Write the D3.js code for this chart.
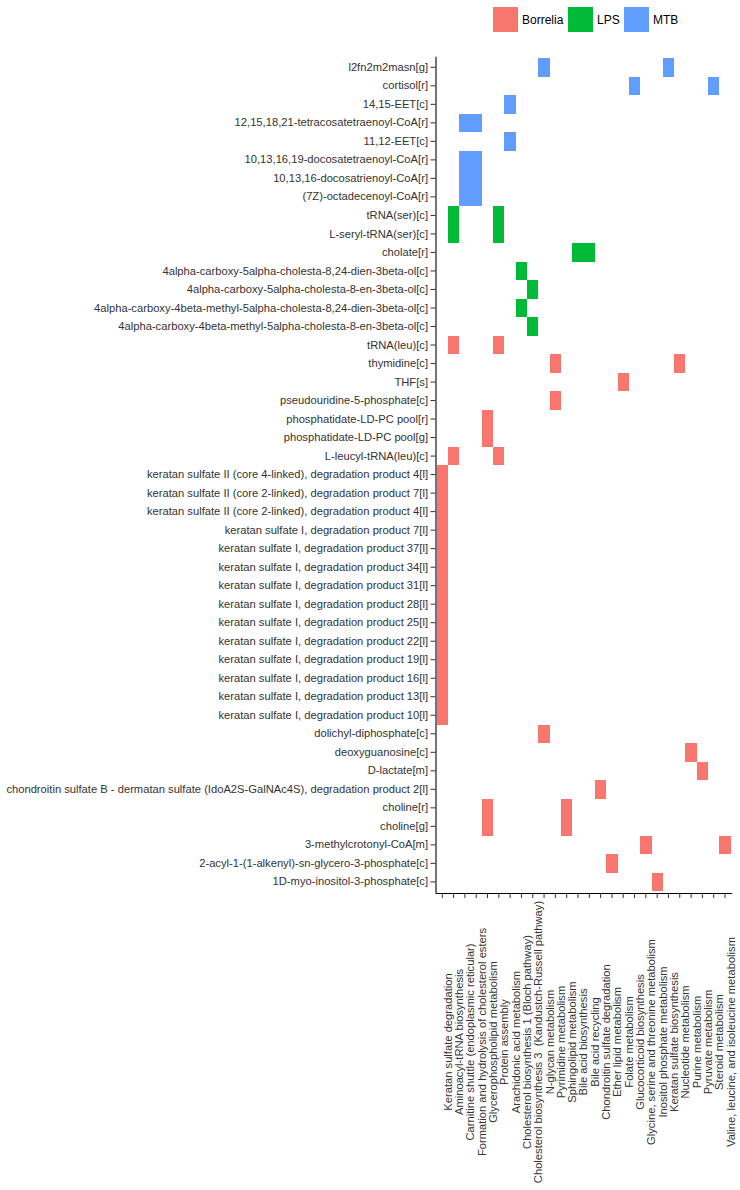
<!DOCTYPE html>
<html>
<head>
<meta charset="utf-8">
<script src="https://cdn.jsdelivr.net/npm/d3@7"></script>
<style>
  body { margin: 0; background: #fff; }
  text { font-family: "Liberation Sans", Arial, sans-serif; white-space: pre; }
</style>
</head>
<body>
<svg id="chart" width="740" height="1190"></svg>
<script>
// y categories, top to bottom
const metabolites = [
  "l2fn2m2masn[g]",
  "cortisol[r]",
  "14,15-EET[c]",
  "12,15,18,21-tetracosatetraenoyl-CoA[r]",
  "11,12-EET[c]",
  "10,13,16,19-docosatetraenoyl-CoA[r]",
  "10,13,16-docosatrienoyl-CoA[r]",
  "(7Z)-octadecenoyl-CoA[r]",
  "tRNA(ser)[c]",
  "L-seryl-tRNA(ser)[c]",
  "cholate[r]",
  "4alpha-carboxy-5alpha-cholesta-8,24-dien-3beta-ol[c]",
  "4alpha-carboxy-5alpha-cholesta-8-en-3beta-ol[c]",
  "4alpha-carboxy-4beta-methyl-5alpha-cholesta-8,24-dien-3beta-ol[c]",
  "4alpha-carboxy-4beta-methyl-5alpha-cholesta-8-en-3beta-ol[c]",
  "tRNA(leu)[c]",
  "thymidine[c]",
  "THF[s]",
  "pseudouridine-5-phosphate[c]",
  "phosphatidate-LD-PC pool[r]",
  "phosphatidate-LD-PC pool[g]",
  "L-leucyl-tRNA(leu)[c]",
  "keratan sulfate II (core 4-linked), degradation product 4[l]",
  "keratan sulfate II (core 2-linked), degradation product 7[l]",
  "keratan sulfate II (core 2-linked), degradation product 4[l]",
  "keratan sulfate I, degradation product 7[l]",
  "keratan sulfate I, degradation product 37[l]",
  "keratan sulfate I, degradation product 34[l]",
  "keratan sulfate I, degradation product 31[l]",
  "keratan sulfate I, degradation product 28[l]",
  "keratan sulfate I, degradation product 25[l]",
  "keratan sulfate I, degradation product 22[l]",
  "keratan sulfate I, degradation product 19[l]",
  "keratan sulfate I, degradation product 16[l]",
  "keratan sulfate I, degradation product 13[l]",
  "keratan sulfate I, degradation product 10[l]",
  "dolichyl-diphosphate[c]",
  "deoxyguanosine[c]",
  "D-lactate[m]",
  "chondroitin sulfate B - dermatan sulfate (IdoA2S-GalNAc4S), degradation product 2[l]",
  "choline[r]",
  "choline[g]",
  "3-methylcrotonyl-CoA[m]",
  "2-acyl-1-(1-alkenyl)-sn-glycero-3-phosphate[c]",
  "1D-myo-inositol-3-phosphate[c]"
];

// x categories, left to right
const pathways = [
  "Keratan sulfate degradation",
  "Aminoacyl-tRNA biosynthesis",
  "Carnitine shuttle (endoplasmic reticular)",
  "Formation and hydrolysis of cholesterol esters",
  "Glycerophospholipid metabolism",
  "Protein assembly",
  "Arachidonic acid metabolism",
  "Cholesterol biosynthesis 1 (Bloch pathway)",
  "Cholesterol biosynthesis 3  (Kandustch-Russell pathway)",
  "N-glycan metabolism",
  "Pyrimidine metabolism",
  "Sphingolipid metabolism",
  "Bile acid biosynthesis",
  "Bile acid recycling",
  "Chondroitin sulfate degradation",
  "Ether lipid metabolism",
  "Folate metabolism",
  "Glucocorticoid biosynthesis",
  "Glycine, serine and threonine metabolism",
  "Inositol phosphate metabolism",
  "Keratan sulfate biosynthesis",
  "Nucleotide metabolism",
  "Purine metabolism",
  "Pyruvate metabolism",
  "Steroid metabolism",
  "Valine, leucine, and isoleucine metabolism"
];

const groups = ["Borrelia", "LPS", "MTB"];
const groupColors = ["#F8766D", "#00BA38", "#619CFF"];

// tiles: [metabolite, pathway]
const mtbTiles = [
  ["l2fn2m2masn[g]", "N-glycan metabolism"],
  ["l2fn2m2masn[g]", "Keratan sulfate biosynthesis"],
  ["cortisol[r]", "Glucocorticoid biosynthesis"],
  ["cortisol[r]", "Steroid metabolism"],
  ["14,15-EET[c]", "Arachidonic acid metabolism"],
  ["12,15,18,21-tetracosatetraenoyl-CoA[r]", "Carnitine shuttle (endoplasmic reticular)"],
  ["12,15,18,21-tetracosatetraenoyl-CoA[r]", "Formation and hydrolysis of cholesterol esters"],
  ["11,12-EET[c]", "Arachidonic acid metabolism"],
  ["10,13,16,19-docosatetraenoyl-CoA[r]", "Carnitine shuttle (endoplasmic reticular)"],
  ["10,13,16,19-docosatetraenoyl-CoA[r]", "Formation and hydrolysis of cholesterol esters"],
  ["10,13,16-docosatrienoyl-CoA[r]", "Carnitine shuttle (endoplasmic reticular)"],
  ["10,13,16-docosatrienoyl-CoA[r]", "Formation and hydrolysis of cholesterol esters"],
  ["(7Z)-octadecenoyl-CoA[r]", "Carnitine shuttle (endoplasmic reticular)"],
  ["(7Z)-octadecenoyl-CoA[r]", "Formation and hydrolysis of cholesterol esters"]
];

const lpsTiles = [
  ["tRNA(ser)[c]", "Aminoacyl-tRNA biosynthesis"],
  ["tRNA(ser)[c]", "Protein assembly"],
  ["L-seryl-tRNA(ser)[c]", "Aminoacyl-tRNA biosynthesis"],
  ["L-seryl-tRNA(ser)[c]", "Protein assembly"],
  ["cholate[r]", "Bile acid biosynthesis"],
  ["cholate[r]", "Bile acid recycling"],
  ["4alpha-carboxy-5alpha-cholesta-8,24-dien-3beta-ol[c]", "Cholesterol biosynthesis 1 (Bloch pathway)"],
  ["4alpha-carboxy-5alpha-cholesta-8-en-3beta-ol[c]", "Cholesterol biosynthesis 3  (Kandustch-Russell pathway)"],
  ["4alpha-carboxy-4beta-methyl-5alpha-cholesta-8,24-dien-3beta-ol[c]", "Cholesterol biosynthesis 1 (Bloch pathway)"],
  ["4alpha-carboxy-4beta-methyl-5alpha-cholesta-8-en-3beta-ol[c]", "Cholesterol biosynthesis 3  (Kandustch-Russell pathway)"]
];

const borreliaTiles = [
  ["tRNA(leu)[c]", "Aminoacyl-tRNA biosynthesis"],
  ["tRNA(leu)[c]", "Protein assembly"],
  ["thymidine[c]", "Pyrimidine metabolism"],
  ["thymidine[c]", "Nucleotide metabolism"],
  ["THF[s]", "Folate metabolism"],
  ["pseudouridine-5-phosphate[c]", "Pyrimidine metabolism"],
  ["phosphatidate-LD-PC pool[r]", "Glycerophospholipid metabolism"],
  ["phosphatidate-LD-PC pool[g]", "Glycerophospholipid metabolism"],
  ["L-leucyl-tRNA(leu)[c]", "Aminoacyl-tRNA biosynthesis"],
  ["L-leucyl-tRNA(leu)[c]", "Protein assembly"],
  ["keratan sulfate II (core 4-linked), degradation product 4[l]", "Keratan sulfate degradation"],
  ["keratan sulfate II (core 2-linked), degradation product 7[l]", "Keratan sulfate degradation"],
  ["keratan sulfate II (core 2-linked), degradation product 4[l]", "Keratan sulfate degradation"],
  ["keratan sulfate I, degradation product 7[l]", "Keratan sulfate degradation"],
  ["keratan sulfate I, degradation product 37[l]", "Keratan sulfate degradation"],
  ["keratan sulfate I, degradation product 34[l]", "Keratan sulfate degradation"],
  ["keratan sulfate I, degradation product 31[l]", "Keratan sulfate degradation"],
  ["keratan sulfate I, degradation product 28[l]", "Keratan sulfate degradation"],
  ["keratan sulfate I, degradation product 25[l]", "Keratan sulfate degradation"],
  ["keratan sulfate I, degradation product 22[l]", "Keratan sulfate degradation"],
  ["keratan sulfate I, degradation product 19[l]", "Keratan sulfate degradation"],
  ["keratan sulfate I, degradation product 16[l]", "Keratan sulfate degradation"],
  ["keratan sulfate I, degradation product 13[l]", "Keratan sulfate degradation"],
  ["keratan sulfate I, degradation product 10[l]", "Keratan sulfate degradation"],
  ["dolichyl-diphosphate[c]", "N-glycan metabolism"],
  ["deoxyguanosine[c]", "Purine metabolism"],
  ["D-lactate[m]", "Pyruvate metabolism"],
  ["chondroitin sulfate B - dermatan sulfate (IdoA2S-GalNAc4S), degradation product 2[l]", "Chondroitin sulfate degradation"],
  ["choline[r]", "Glycerophospholipid metabolism"],
  ["choline[r]", "Sphingolipid metabolism"],
  ["choline[g]", "Glycerophospholipid metabolism"],
  ["choline[g]", "Sphingolipid metabolism"],
  ["3-methylcrotonyl-CoA[m]", "Glycine, serine and threonine metabolism"],
  ["3-methylcrotonyl-CoA[m]", "Valine, leucine, and isoleucine metabolism"],
  ["2-acyl-1-(1-alkenyl)-sn-glycero-3-phosphate[c]", "Ether lipid metabolism"],
  ["1D-myo-inositol-3-phosphate[c]", "Inositol phosphate metabolism"]
];

const tiles = [
  ...borreliaTiles.map(d => ({m: d[0], p: d[1], g: "Borrelia"})),
  ...lpsTiles.map(d => ({m: d[0], p: d[1], g: "LPS"})),
  ...mtbTiles.map(d => ({m: d[0], p: d[1], g: "MTB"}))
];

const panel = {left: 435.5, right: 731.8, top: 56.2, bottom: 893};
const fontSize = "11.2px";
const svg = d3.select("#chart");

// ggplot-like discrete expansion (0.6 units each side)
const x = d3.scaleBand()
  .domain(pathways)
  .range([panel.left, panel.right])
  .paddingInner(0).paddingOuter(0.1);

const y = d3.scaleBand()
  .domain(metabolites)
  .range([panel.top, panel.bottom])
  .paddingInner(0).paddingOuter(0.1);

const color = d3.scaleOrdinal().domain(groups).range(groupColors);

// tiles, crisp edges so neighbouring tiles merge without seams
svg.append("g")
  .attr("shape-rendering", "crispEdges")
  .selectAll("rect")
  .data(tiles)
  .join("rect")
  .attr("x", d => x(d.p))
  .attr("y", d => y(d.m))
  .attr("width", x.bandwidth())
  .attr("height", y.bandwidth())
  .attr("fill", d => color(d.g));

// y axis
const yAxis = svg.append("g")
  .attr("transform", `translate(${panel.left},0)`)
  .call(d3.axisLeft(y).tickSize(5).tickSizeOuter(0).tickPadding(2.5));
yAxis.select(".domain").attr("stroke", "#000").attr("stroke-width", 1.1);
yAxis.selectAll(".tick line").attr("stroke", "#333");
yAxis.selectAll(".tick text")
  .attr("fill", "#333")
  .style("font-size", fontSize);

// x axis, labels rotated and centred
const xAxis = svg.append("g")
  .attr("transform", `translate(0,${panel.bottom})`)
  .call(d3.axisBottom(x).tickSize(5).tickSizeOuter(0));
xAxis.select(".domain").attr("stroke", "#000").attr("stroke-width", 1.1);
xAxis.selectAll(".tick line").attr("stroke", "#333");
xAxis.selectAll(".tick text")
  .attr("fill", "#333")
  .style("font-size", fontSize)
  .attr("x", 0).attr("y", 0).attr("dy", 0)
  .attr("text-anchor", "middle")
  .attr("transform", "translate(9.5,149) rotate(-90)");

// legend
const legend = svg.append("g").attr("transform", "translate(493,7)");
const legendX = [0, 75, 131];
groups.forEach((g, i) => {
  const item = legend.append("g").attr("transform", `translate(${legendX[i]},0)`);
  item.append("rect")
    .attr("width", 25).attr("height", 25)
    .attr("fill", color(g));
  item.append("text")
    .attr("x", 29).attr("y", 12.5)
    .attr("dy", "0.35em")
    .style("font-size", "12px")
    .attr("fill", "#000")
    .text(g);
});
</script>
</body>
</html>
